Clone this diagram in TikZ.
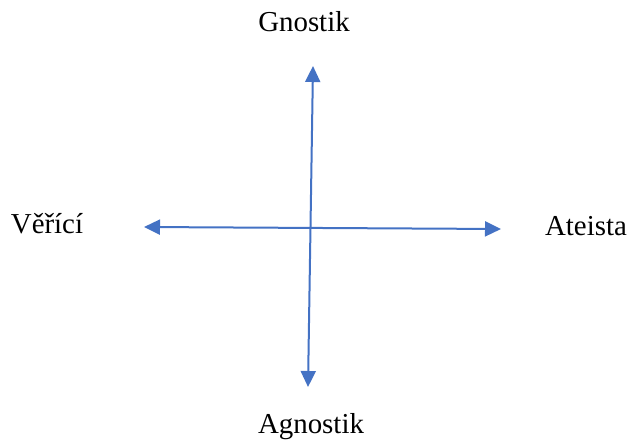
\documentclass[tikz,border=0pt]{standalone}
\usepackage{fontspec}
\setmainfont{Liberation Serif}
\usepackage{tikz}
\usetikzlibrary{arrows.meta}
\definecolor{axisBlue}{HTML}{4472C4}

\begin{document}
\begin{tikzpicture}[x=1bp, y=-1bp,
  lbl/.style={font=\fontsize{29}{34}\selectfont, inner sep=0pt},
  ax/.style={axisBlue, line width=2bp, {Triangle[length=16bp,width=15bp]}-{Triangle[length=16bp,width=15bp]}}]
\useasboundingbox (0,0) rectangle (629,442);
% labels
\node[lbl] (gn) at (304,22) {Gnostik};
\node[lbl] (ag) at (311,427) {Agnostik};
\node[lbl] (ve) at (47,224) {Věřící};
\node[lbl] (at) at (586,226) {Ateista};
% axis end points
\coordinate (top) at (313,66);
\coordinate (bot) at (308,387);
\coordinate (lft) at (144,227);
\coordinate (rgt) at (501,229);
\draw[ax] (bot) -- (top);
\draw[ax] (lft) -- (rgt);
\end{tikzpicture}
\end{document}
